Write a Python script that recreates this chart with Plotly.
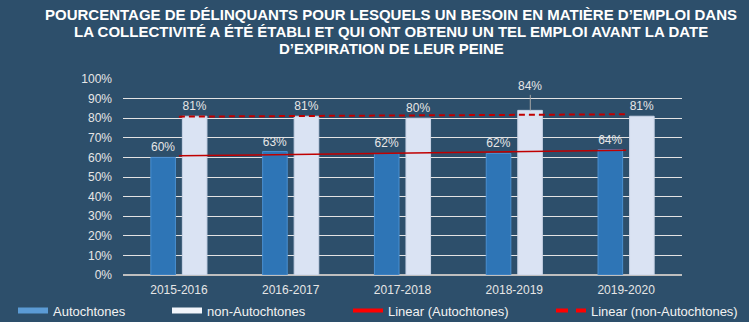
import plotly.graph_objects as go

categories = ["2015-2016", "2016-2017", "2017-2018", "2018-2019", "2019-2020"]
autochtones = [60, 63, 62, 62, 64]
non_autochtones = [81, 81, 80, 84, 81]
auto_labels = ["60%", "63%", "62%", "62%", "64%"]
non_auto_labels = ["81%", "81%", "80%", "", "81%"]
callout_label = "84%"
callout_category = "2018-2019"
title_lines = [
    "POURCENTAGE DE DÉLINQUANTS POUR LESQUELS UN BESOIN EN MATIÈRE D\u2019EMPLOI DANS",
    "LA COLLECTIVITÉ A ÉTÉ ÉTABLI ET QUI ONT OBTENU UN TEL EMPLOI AVANT LA DATE",
    "D\u2019EXPIRATION DE LEUR PEINE",
]


def linear_fit(vals):
    n = len(vals)
    xs = list(range(n))
    mx = sum(xs) / n
    my = sum(vals) / n
    slope = sum((x - mx) * (y - my) for x, y in zip(xs, vals)) / sum((x - mx) ** 2 for x in xs)
    return [my + slope * (x - mx) for x in xs]


BG = "#2d4f6b"
TXT = "#e6e6e6"
LEG_TXT = "#f2f2f2"
FONT = "Liberation Sans, Arial, sans-serif"
AUTO_C = "#2e75b6"
NON_C = "#dae3f3"

fig = go.Figure()
fig.add_trace(go.Bar(
    x=categories, y=autochtones, name="Autochtones", showlegend=False,
    legendgroup="a",
    marker=dict(color=AUTO_C, line=dict(color="#4a8fd0", width=1)),
    text=auto_labels, textposition="outside", cliponaxis=False,
    textfont=dict(color=TXT, size=12, family=FONT),
))
fig.add_trace(go.Bar(
    x=categories, y=non_autochtones, name="non-Autochtones", showlegend=False,
    legendgroup="n",
    marker=dict(color=NON_C, line=dict(color="#c8d3e6", width=1)),
    text=non_auto_labels, textposition="outside", cliponaxis=False,
    textfont=dict(color=TXT, size=12, family=FONT),
))
fig.add_trace(go.Scatter(
    x=categories, y=linear_fit(autochtones), mode="lines", name="Linear (Autochtones)",
    showlegend=False, legendgroup="la",
    line=dict(color="#c00000", width=1.5),
))
fig.add_trace(go.Scatter(
    x=categories, y=linear_fit(non_autochtones), mode="lines", name="Linear (non-Autochtones)",
    showlegend=False, legendgroup="ln",
    line=dict(color="#c00000", width=2, dash="6px,4px"),
))
# legend swatches styled as in the reference
fig.add_trace(go.Scatter(
    x=[None], y=[None], mode="lines", name="Autochtones", legendgroup="a",
    line=dict(color="#5b9bd5", width=6), legend="legend",
))
fig.add_trace(go.Scatter(
    x=[None], y=[None], mode="lines", name="non-Autochtones", legendgroup="n",
    line=dict(color="#f2f5fb", width=6), legend="legend2",
))
fig.add_trace(go.Scatter(
    x=[None], y=[None], mode="lines", name="Linear (Autochtones)", legendgroup="la",
    line=dict(color="#ff0000", width=4), legend="legend3",
))
fig.add_trace(go.Scatter(
    x=[None], y=[None], mode="lines", name="Linear (non-Autochtones)", legendgroup="ln",
    line=dict(color="#ff0000", width=4, dash="12px,8px"), legend="legend4",
))

fig.add_annotation(
    x=callout_category, y=non_autochtones[categories.index(callout_category)],
    xshift=16, text=callout_label, showarrow=True, arrowhead=0, arrowwidth=1,
    arrowcolor="#a6a6a6", ax=0, ay=-24, font=dict(color=TXT, size=12, family=FONT),
)

for i, line in enumerate(title_lines):
    fig.add_annotation(
        xref="paper", yref="paper", x=(391 - 123) / 559, y=1,
        yshift=79 - (14 + 17 * i), yanchor="middle",
        text=line, showarrow=False, align="center",
        font=dict(color="white", size=15, family=FONT, weight="bold"),
    )

leg_common = dict(orientation="h", yanchor="middle", y=(275.5 - 311) / 196, xanchor="left",
                  bgcolor="rgba(0,0,0,0)", font=dict(color=LEG_TXT, size=13, family=FONT),
                  itemwidth=30)
fig.update_layout(
    width=749, height=322,
    margin=dict(l=123, r=67, t=79, b=47, autoexpand=False),
    paper_bgcolor=BG, plot_bgcolor=BG,
    barmode="group", bargap=0.436, bargroupgap=0.22,
    font=dict(family=FONT, color=TXT, size=11),
    showlegend=True,
    legend=dict(x=(13 - 123) / 559, **leg_common),
    legend2=dict(x=(167 - 123) / 559, **leg_common),
    legend3=dict(x=(348 - 123) / 559, **leg_common),
    legend4=dict(x=(551 - 123) / 559, **leg_common),
    xaxis=dict(showgrid=False, showline=False, ticks="", tickfont=dict(color=TXT, size=12),
               ticklabelstandoff=6),
    yaxis=dict(range=[0, 100], dtick=10, ticksuffix="%", showgrid=True,
               gridcolor="#e3e3e3", gridwidth=1.3, zeroline=True, zerolinecolor="#bfbfbf",
               zerolinewidth=2, tickfont=dict(color=TXT, size=12), ticklabelstandoff=10),
)

fig.write_html("out.html")
